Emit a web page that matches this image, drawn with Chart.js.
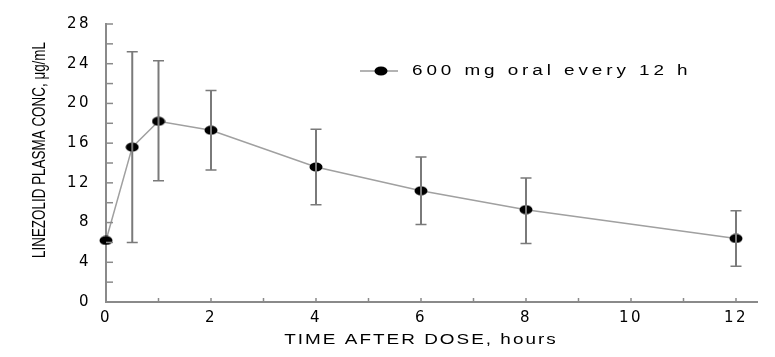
<!DOCTYPE html>
<html><head><meta charset="utf-8">
<style>html,body{margin:0;padding:0;background:#fff}#w{width:775px;height:357px}</style>
<script src="https://cdn.jsdelivr.net/npm/chart.js@4/dist/chart.umd.min.js"></script>
</head><body><div id="w"><canvas id="c" width="775" height="357"></canvas></div>
<script>
const hours = [0, 0.5, 1, 2, 4, 6, 8, 12];
const meanConc = [6.2, 15.6, 18.2, 17.3, 13.6, 11.2, 9.3, 6.4];
const sdUpper = [null, 25.2, 24.3, 21.3, 17.4, 14.6, 12.5, 9.2];
const sdLower = [null, 6.0, 12.2, 13.3, 9.8, 7.8, 5.9, 3.6];
const seriesLabel = '600 mg oral every 12 h';
const xTitle = 'TIME AFTER DOSE, hours';
const yTitle = 'LINEZOLID PLASMA CONC, \u03bcg/mL';

const marker = document.createElement('canvas');
marker.width = 14; marker.height = 10;
{ const m = marker.getContext('2d'); m.fillStyle = '#000'; m.beginPath(); m.ellipse(7,5,6.5,4.5,0,0,Math.PI*2); m.fill(); }

const points = hours.map((h,i)=>({x:h,y:meanConc[i]}));

function stretchedText(ctx, text, x, y, sx, align){
  ctx.save();
  ctx.translate(x, y);
  ctx.scale(sx, 1);
  ctx.textAlign = align;
  ctx.fillText(text, 0, 0);
  ctx.restore();
}

const decor = {
  id:'decor',
  beforeDraw(chart){ chart.ctx.letterSpacing = '2.5px'; },
  afterDatasetsDraw(chart){
    const ctx = chart.ctx, xs = chart.scales.x, ys = chart.scales.y;
    ctx.save();
    ctx.letterSpacing = '0px';
    ctx.strokeStyle = '#7a7a7a';
    for (let i=0;i<hours.length;i++){
      if (sdUpper[i]==null) continue;
      const px = xs.getPixelForValue(hours[i]);
      const pt = ys.getPixelForValue(sdUpper[i]);
      const pb = ys.getPixelForValue(sdLower[i]);
      ctx.lineWidth = 2;
      ctx.beginPath(); ctx.moveTo(px,pt); ctx.lineTo(px,pb); ctx.stroke();
      ctx.lineWidth = 1.5;
      ctx.beginPath(); ctx.moveTo(px-5.5,pt); ctx.lineTo(px+5.5,pt); ctx.moveTo(px-5.5,pb); ctx.lineTo(px+5.5,pb); ctx.stroke();
    }
    ctx.restore();
  },
  afterDraw(chart){
    const ctx = chart.ctx, xs = chart.scales.x, ys = chart.scales.y, ca = chart.chartArea;
    ctx.save();
    ctx.letterSpacing = '0px';
    ctx.strokeStyle = '#8a8a8a'; ctx.lineWidth = 1.5;
    xs.ticks.forEach(t=>{ if (t.value===0) return; const p = xs.getPixelForValue(t.value); ctx.beginPath(); ctx.moveTo(p,ca.bottom); ctx.lineTo(p,ca.bottom-4); ctx.stroke(); });
    ys.ticks.forEach(t=>{ if (t.value===0) return; const p = ys.getPixelForValue(t.value); ctx.beginPath(); ctx.moveTo(ca.left,p); ctx.lineTo(ca.left+7,p); ctx.stroke(); });
    ctx.fillStyle = '#000';
    ctx.textBaseline = 'middle';
    ctx.font = '14px "Liberation Sans", Arial, sans-serif';
    ctx.letterSpacing = '1.5px';
    stretchedText(ctx, xTitle, xs.getPixelForValue(6), 340, 1.35, 'center');
    ctx.save();
    ctx.translate(40, 150);
    ctx.rotate(-Math.PI/2);
    ctx.font = '19px "Liberation Sans", Arial, sans-serif';
    ctx.letterSpacing = '0px';
    const w = ctx.measureText(yTitle).width;
    ctx.scale(216 / w, 1);
    ctx.textAlign = 'center';
    ctx.fillText(yTitle, 0, 0);
    ctx.restore();
    const lx = 360, ly = 71;
    ctx.strokeStyle = '#9a9a9a'; ctx.lineWidth = 1.5;
    ctx.beginPath(); ctx.moveTo(lx,ly); ctx.lineTo(lx+38,ly); ctx.stroke();
    ctx.drawImage(marker, lx+21-7, ly-5);
    ctx.font = '14px "Liberation Sans", Arial, sans-serif';
    ctx.letterSpacing = '2.9px';
    stretchedText(ctx, seriesLabel, lx+52, ly, 1.35, 'left');
    ctx.restore();
  }
};

new Chart(document.getElementById('c'), {
  type:'scatter',
  data:{ datasets:[{
    label: seriesLabel,
    data: points,
    showLine:true,
    clip:false,
    borderColor:'#a0a0a0',
    borderWidth:1.5,
    pointStyle: marker,
    pointRadius:5,
    pointHoverRadius:5,
  }]},
  options:{
    responsive:false,
    animation:false,
    layout:{padding:{top:24,right:18,left:0,bottom:0}},
    plugins:{legend:{display:false},tooltip:{enabled:false}},
    scales:{
      x:{type:'linear',min:0,max:12.4,
        afterFit(s){ s.height = 55; },
        ticks:{stepSize:1,includeBounds:false,color:'#000',padding:7,maxRotation:0,autoSkip:false,
          font:{family:'"DejaVu Sans", sans-serif',size:15},
          callback:v=> v%2===0 ? String(v) : ''},
        grid:{display:false,drawTicks:false},
        border:{display:true,color:'#8a8a8a',width:2}
      },
      y:{type:'linear',min:0,max:28,
        afterFit(s){ s.width = 106; },
        ticks:{stepSize:2,color:'#000',padding:15,autoSkip:false,
          font:{family:'"DejaVu Sans", sans-serif',size:15},
          callback:v=> v%4===0 ? String(v) : ''},
        grid:{display:false,drawTicks:false},
        border:{display:true,color:'#8a8a8a',width:2}
      }
    }
  },
  plugins:[decor]
});
</script>
</body></html>
